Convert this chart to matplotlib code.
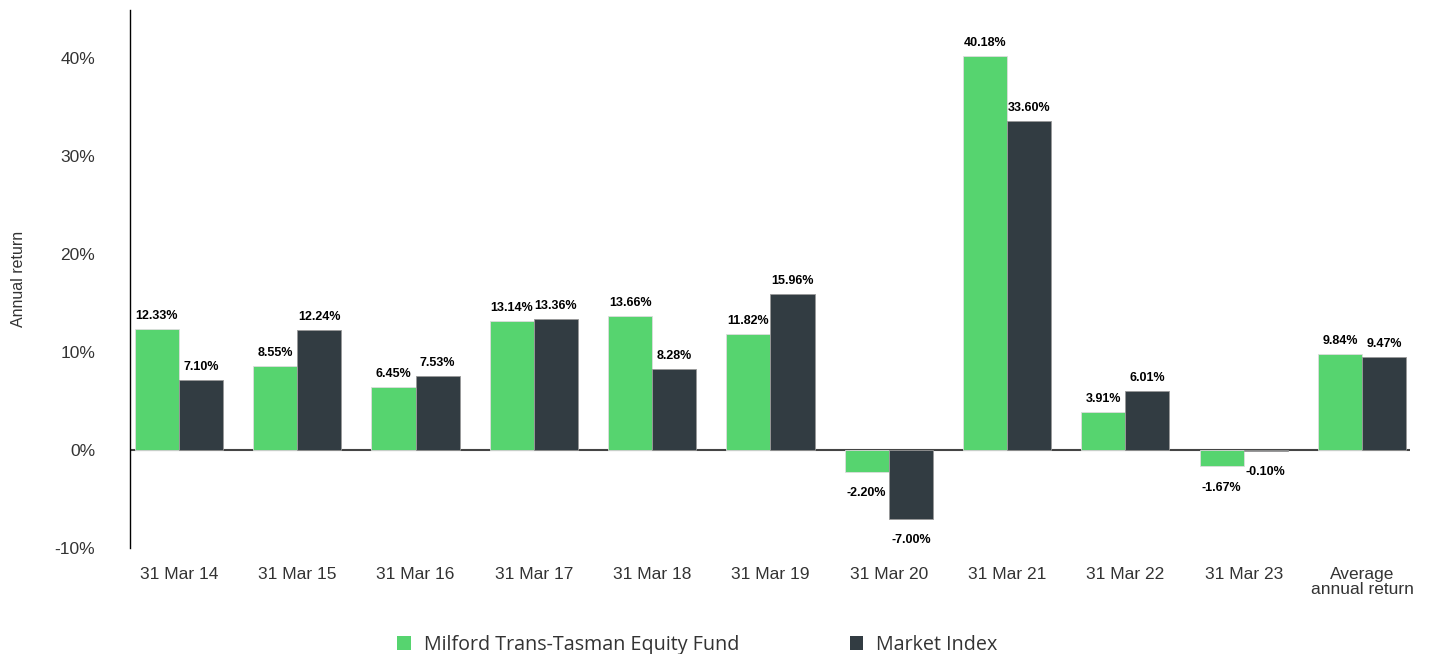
import matplotlib.pyplot as plt
from matplotlib.patches import Patch
import numpy as np

# Data
categories = ['31 Mar 14', '31 Mar 15', '31 Mar 16', '31 Mar 17', '31 Mar 18',
              '31 Mar 19', '31 Mar 20', '31 Mar 21', '31 Mar 22', '31 Mar 23',
              'Average\nannual return']
fund = [12.33, 8.55, 6.45, 13.14, 13.66, 11.82, -2.20, 40.18, 3.91, -1.67, 9.84]
index = [7.10, 12.24, 7.53, 13.36, 8.28, 15.96, -7.00, 33.60, 6.01, -0.10, 9.47]
series_names = ['Milford Trans-Tasman Equity Fund', 'Market Index']
yticks = [-10, 0, 10, 20, 30, 40]

green = '#56d46f'
dark = '#323c42'
text_col = '#333333'

plt.rcParams['font.family'] = ['Liberation Sans', 'DejaVu Sans']

fig = plt.figure(figsize=(14.29, 6.54), dpi=100)
ax = fig.add_axes([130 / 1429, 106 / 654, 1280 / 1429, 538 / 654])

x = np.arange(len(categories))
w = 0.373
b1 = ax.bar(x - w / 2, fund, w, color=green, edgecolor='#dddddd', linewidth=0.6, zorder=3)
b2 = ax.bar(x + w / 2, index, w, color=dark, edgecolor='#999999', linewidth=0.6, zorder=3)

ax.axhline(0, color='#444444', linewidth=1.5, zorder=2)

for bars, vals in ((b1, fund), (b2, index)):
    for rect, v in zip(bars, vals):
        cx = rect.get_x() + rect.get_width() / 2
        if v >= 0:
            ax.annotate(f'{v:.2f}%', (cx, v), xytext=(0, 5), textcoords='offset points',
                        ha='center', va='bottom', fontsize=9, fontweight='bold', color='black')
        else:
            ax.annotate(f'{v:.2f}%', (cx, v), xytext=(0, -11), textcoords='offset points',
                        ha='center', va='top', fontsize=9, fontweight='bold', color='black')

ax.set_xlim(-0.414, 10.406)
ax.set_ylim(-10, 44.9)
ax.set_yticks(yticks)
ax.set_yticklabels([f'{t}%' for t in yticks])
ax.set_xticks(x)
ax.set_xticklabels(categories, linespacing=0.95)
ax.tick_params(axis='both', length=0, labelsize=12.5, colors=text_col)
ax.tick_params(axis='y', pad=25)
ax.tick_params(axis='x', pad=14)

for s in ('top', 'right', 'bottom'):
    ax.spines[s].set_visible(False)
ax.spines['left'].set_color('black')
ax.spines['left'].set_linewidth(1.0)

ax.set_ylabel('Annual return', fontsize=11.5, color=text_col)
ax.yaxis.set_label_coords(-0.081, 0.5)

handles = [Patch(facecolor=green), Patch(facecolor=dark)]
fig.legend(handles, series_names, loc='center', bbox_to_anchor=(0.488, 0.014), ncol=2,
           frameon=False, handlelength=0.7, handleheight=0.7, handletextpad=0.65,
           columnspacing=5.6, prop={'family': 'Open Sans', 'size': 14.2})
for t in fig.legends[0].get_texts():
    t.set_color(text_col)

fig.savefig('out.png', dpi=100)
